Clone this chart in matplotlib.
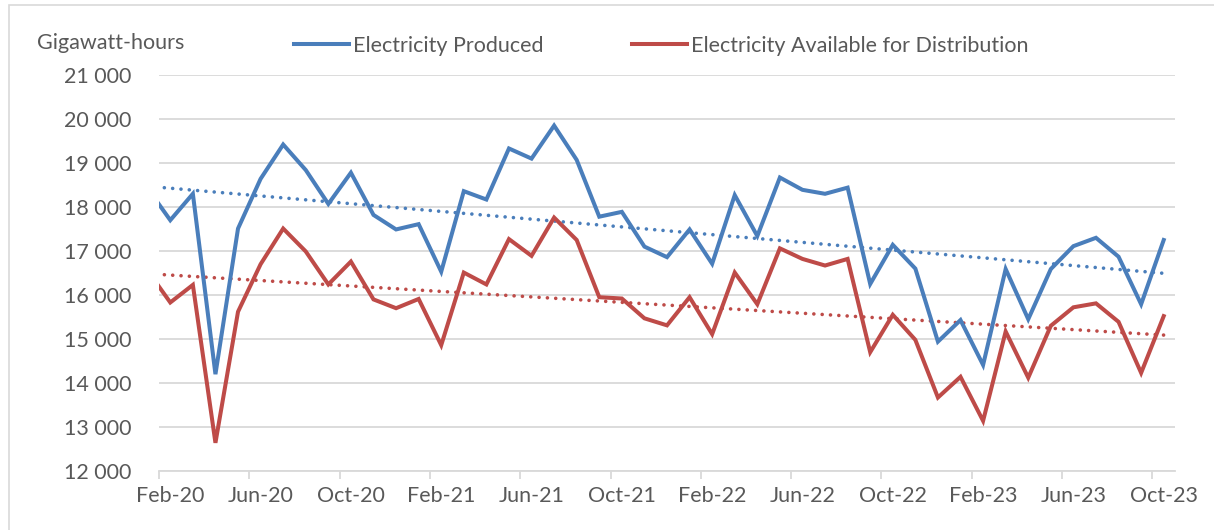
import numpy as np
import matplotlib.pyplot as plt
from matplotlib.patches import Rectangle

# monthly data, Jan-20 .. Oct-23 (Jan-20 sits just left of the visible axis)
months = ['Jan-20', 'Feb-20', 'Mar-20', 'Apr-20', 'May-20', 'Jun-20', 'Jul-20', 'Aug-20', 'Sep-20',
          'Oct-20', 'Nov-20', 'Dec-20', 'Jan-21', 'Feb-21', 'Mar-21', 'Apr-21', 'May-21', 'Jun-21',
          'Jul-21', 'Aug-21', 'Sep-21', 'Oct-21', 'Nov-21', 'Dec-21', 'Jan-22', 'Feb-22', 'Mar-22',
          'Apr-22', 'May-22', 'Jun-22', 'Jul-22', 'Aug-22', 'Sep-22', 'Oct-22', 'Nov-22', 'Dec-22',
          'Jan-23', 'Feb-23', 'Mar-23', 'Apr-23', 'May-23', 'Jun-23', 'Jul-23', 'Aug-23', 'Sep-23',
          'Oct-23']

produced = [18420, 17700, 18300, 14200, 17510, 18640, 19420, 18840, 18070,
            18780, 17820, 17490, 17610, 16530, 18360, 18170, 19330, 19100, 19850,
            19070, 17780, 17890, 17100, 16860, 17490, 16710, 18270, 17340, 18670,
            18390, 18300, 18440, 16250, 17140, 16600, 14940, 15430, 14410, 16590,
            15450, 16590, 17110, 17300, 16870, 15790, 17250]

available = [16550, 15830, 16230, 12640, 15620, 16700, 17510, 16990, 16240,
             16760, 15900, 15700, 15910, 14860, 16510, 16240, 17270, 16890, 17760,
             17250, 15950, 15920, 15470, 15310, 15950, 15110, 16510, 15790, 17060,
             16820, 16670, 16820, 14700, 15550, 14980, 13670, 14140, 13140, 15170,
             14120, 15300, 15720, 15810, 15390, 14230, 15520]

blue = '#4A7EBB'
red = '#BE4B48'
txt = '#595959'
plt.rcParams['font.family'] = ['Lato', 'DejaVu Sans']
fs = 15.5

x = np.arange(len(months)) - 1  # Feb-20 -> 0

fig = plt.figure(figsize=(12.14, 5.30), dpi=100)
ax = fig.add_axes([159 / 1214, 1 - 471 / 530, (1175 - 159) / 1214, (471 - 75) / 530])

ax.plot(x, produced, color=blue, lw=2.9, solid_joinstyle='miter', label='Electricity Produced', zorder=3)
ax.plot(x, available, color=red, lw=2.9, solid_joinstyle='miter',
        label='Electricity Available for Distribution', zorder=3)

# linear trend lines
for series, c in [(produced, blue), (available, red)]:
    k, b = np.polyfit(x, series, 1)
    ax.plot(x, k * x + b, color=c, lw=2.6, linestyle=(0, (0.01, 2.3)),
            dash_capstyle='round', zorder=2)

ax.set_xlim(-0.5, 44.5)
ax.set_ylim(12000, 21000)
ax.set_yticks(np.arange(12000, 21001, 1000))
ax.set_yticklabels([f'{v:,}'.replace(',', ' ') for v in range(12000, 21001, 1000)])
ax.grid(axis='y', color='#D9D9D9', lw=1.3)
ax.set_axisbelow(True)

label_pos = np.arange(0, 45, 4)
ax.set_xticks(label_pos)
ax.set_xticklabels([months[i + 1] for i in label_pos])
ax.set_xticks(np.arange(-0.5, 45, 4), minor=True)
ax.tick_params(axis='x', which='major', length=0, pad=11, labelsize=fs, colors=txt)
ax.tick_params(axis='x', which='minor', length=6, width=1.3, color='#D9D9D9', direction='out')
ax.tick_params(axis='y', length=0, pad=20, labelsize=fs, colors=txt)

for s in ['top', 'right', 'left']:
    ax.spines[s].set_visible(False)
ax.spines['bottom'].set_color('#D9D9D9')
ax.spines['bottom'].set_linewidth(1.3)

fig.text(37 / 1214, 1 - 43 / 530, 'Gigawatt-hours', fontsize=fs, color=txt, va='center', ha='left')

leg = fig.legend(loc='center', bbox_to_anchor=(0.5445, 1 - 46 / 530), ncol=2, frameon=False,
                 fontsize=fs, handlelength=2.55, handletextpad=0.2, columnspacing=4.1)
for t in leg.get_texts():
    t.set_color(txt)

# chart area border (top/left visible)
fig.patches.append(Rectangle((9 / 1214, -0.1), 1.2, 1.1 - 5 / 530, transform=fig.transFigure,
                             fill=False, edgecolor='#D9D9D9', lw=1.2))

fig.savefig('out.png', dpi=100)
